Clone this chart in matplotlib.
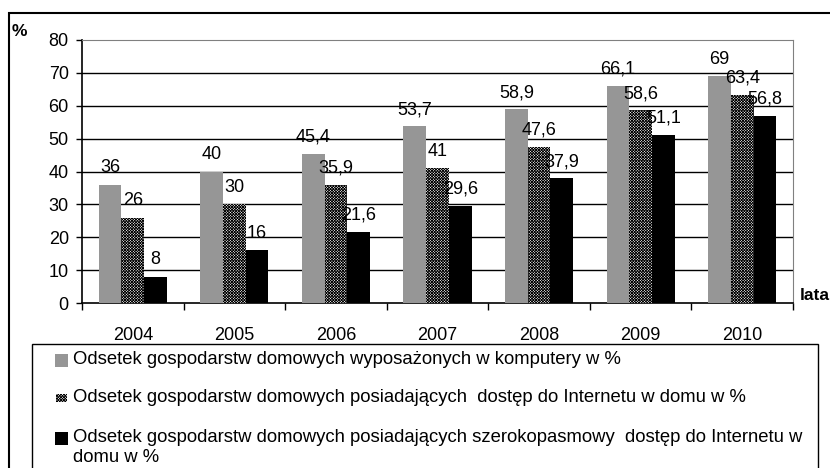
import matplotlib.pyplot as plt
import numpy as np
from matplotlib.patches import Rectangle

plt.rcParams['font.family'] = ['Liberation Sans', 'DejaVu Sans']
plt.rcParams['hatch.linewidth'] = 0.6

years = ['2004', '2005', '2006', '2007', '2008', '2009', '2010']
komputery = [36, 40, 45.4, 53.7, 58.9, 66.1, 69]
internet = [26, 30, 35.9, 41, 47.6, 58.6, 63.4]
szerokopasmowy = [8, 16, 21.6, 29.6, 37.9, 51.1, 56.8]
series_labels = [
    'Odsetek gospodarstw domowych wyposażonych w komputery w %',
    'Odsetek gospodarstw domowych posiadających  dostęp do Internetu w domu w %',
    'Odsetek gospodarstw domowych posiadających szerokopasmowy  dostęp do Internetu w\ndomu w %',
]

W, H = 830, 468
fig = plt.figure(figsize=(W / 100, H / 100), dpi=100)

# outer frame (runs off the right and bottom edge)
fig.add_artist(Rectangle((9 / W, -0.05), 1.0, 1 - 13 / H + 0.05, transform=fig.transFigure,
                         fill=False, edgecolor='black', linewidth=1.5))

ax = fig.add_axes([82 / W, 1 - 303 / H, (793 - 82) / W, (303 - 40) / H])

HATCH = 'x' * 12
x = np.arange(len(years))
bw = 0.224
styles = [dict(color='#969696'),
          dict(facecolor='white', edgecolor='black', hatch=HATCH, linewidth=0),
          dict(color='black')]
for i, vals in enumerate([komputery, internet, szerokopasmowy]):
    xs = x + (i - 1) * bw
    ax.bar(xs, vals, bw, zorder=3, **styles[i])
    for xx, v in zip(xs, vals):
        lab = ('%g' % v).replace('.', ',')
        ax.annotate(lab, (xx, v), xytext=(0, 6), textcoords='offset points',
                    ha='center', va='bottom', fontsize=13, zorder=4)

ax.set_xlim(-0.5, len(years) - 0.5)
ax.set_ylim(0, 80)
ax.set_yticks(range(0, 81, 10))
ax.tick_params(axis='y', direction='out', length=4.5, width=1, labelsize=13, pad=5)
ax.set_xticks(np.arange(-0.5, len(years), 1))
ax.set_xticklabels([])
ax.set_xticks(x, minor=True)
ax.set_xticklabels(years, minor=True)
ax.tick_params(axis='x', which='major', direction='out', length=5, width=1)
ax.tick_params(axis='x', which='minor', length=0, labelsize=13, pad=17)
for yv in range(10, 80, 10):
    ax.axhline(yv, color='black', linewidth=1, zorder=1)
ax.spines['top'].set_color('#808080')
ax.spines['right'].set_color('#808080')
ax.spines['left'].set_linewidth(1.2)
ax.spines['bottom'].set_linewidth(1.2)

fig.text(12 / W, 1 - 31 / H, '%', fontsize=12.5, fontweight='bold', va='center', ha='left')
fig.text(800 / W, 1 - 296 / H, 'lata', fontsize=12.5, fontweight='bold', va='center', ha='left')

# legend box
fig.add_artist(Rectangle((32 / W, -0.05), (818 - 32) / W, 1 - 344 / H + 0.05,
                         transform=fig.transFigure, fill=False, edgecolor='black', linewidth=1))
leg_y = [360, 398, 438]
for i, (lab, yy) in enumerate(zip(series_labels, leg_y)):
    st = styles[i]
    if i == 1:
        fig.add_artist(Rectangle((56 / W, 1 - (yy + 4) / H), 11 / W, 8 / H, transform=fig.transFigure,
                                 facecolor='white', edgecolor='black', hatch=HATCH, linewidth=0))
    else:
        fig.add_artist(Rectangle((55 / W, 1 - (yy + 6.5) / H), 13 / W, 13 / H, transform=fig.transFigure,
                                 facecolor=st['color'], edgecolor='none'))
    fig.text(73 / W, 1 - (yy - 9.5) / H, lab, fontsize=13.3, va='top', ha='left', linespacing=1.3)

fig.savefig('out.png', dpi=100)
